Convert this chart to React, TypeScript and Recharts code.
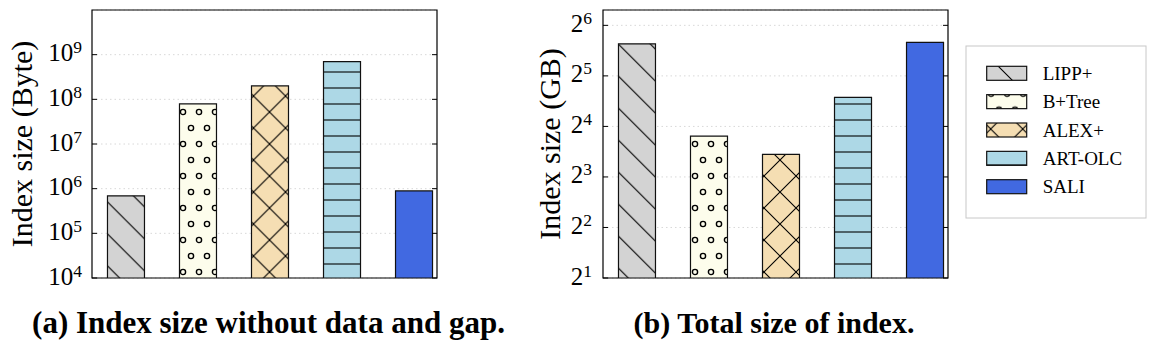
import React from "react";
import {
    BarChart,
    Bar,
    Cell,
    XAxis,
    YAxis,
    CartesianGrid,
    ReferenceArea,
} from "recharts";

const METHODS = ["LIPP+", "B+Tree", "ALEX+", "ART-OLC", "SALI"];
const FILLS = ["#d3d3d3", "#fdfdec", "#f5deb3", "#add8e6", "#4169e1"];

// (a) index size without data and gap, bytes
const INDEX_BYTES = [6.9e5, 7.9e7, 2.0e8, 7.0e8, 8.9e5];
// (b) total size of index, GB
const TOTAL_GB = [49.7, 14.0, 10.9, 23.8, 50.7];

const BYTE_TICKS = [1e4, 1e5, 1e6, 1e7, 1e8, 1e9];
const GB_TICKS = [2, 4, 8, 16, 32, 64];

const X_DOMAIN = [-0.465, 4.326];
const SERIF = "'Liberation Serif', 'Times New Roman', serif";

type Shift = [number, number];

function HatchDefs({ prefix, shifts }: { prefix: string; shifts: Shift[] }) {
    const tf = (i: number) => `translate(${shifts[i][0]},${shifts[i][1]})`;
    return (
        <defs>
            <pattern id={`${prefix}-0`} patternUnits="userSpaceOnUse" width={32} height={32} patternTransform={tf(0)}>
                <rect width={32} height={32} fill={FILLS[0]} />
                <path d="M-4,-4L36,36M-4,28L4,36M28,-4L36,4" stroke="#000" strokeWidth={1.1} />
            </pattern>
            <pattern id={`${prefix}-1`} patternUnits="userSpaceOnUse" width={16} height={32} patternTransform={tf(1)}>
                <rect width={16} height={32} fill={FILLS[1]} />
                <circle cx={4} cy={8} r={2.6} fill="none" stroke="#000" strokeWidth={1.4} />
                <circle cx={12} cy={24} r={2.6} fill="none" stroke="#000" strokeWidth={1.4} />
            </pattern>
            <pattern id={`${prefix}-2`} patternUnits="userSpaceOnUse" width={32} height={32} patternTransform={tf(2)}>
                <rect width={32} height={32} fill={FILLS[2]} />
                <path
                    d="M-4,-4L36,36M-4,36L36,-4M-4,28L4,36M28,-4L36,4M28,36L36,28M-4,4L4,-4"
                    stroke="#000"
                    strokeWidth={1.1}
                />
            </pattern>
            <pattern id={`${prefix}-3`} patternUnits="userSpaceOnUse" width={16} height={16}>
                <rect width={16} height={16} fill={FILLS[3]} />
                <path d="M-2,8L18,8" stroke="#000" strokeWidth={1.1} />
            </pattern>
        </defs>
    );
}

const fillFor = (prefix: string, i: number) => (i < 4 ? `url(#${prefix}-${i})` : FILLS[i]);

function PowTick(props: any) {
    const { x, y, payload, base, gap, plotW } = props;
    const exp = Math.round(Math.log(payload.value) / Math.log(base));
    const ax = x + gap;
    return (
        <g>
            <line x1={ax} x2={ax + 5} y1={y} y2={y} stroke="#000" />
            <line x1={ax + plotW - 5} x2={ax + plotW} y1={y} y2={y} stroke="#000" />
            <text x={x} y={y + 6.5} textAnchor="end" fontFamily={SERIF} fontSize={25} fill="#000">
                <tspan>{base}</tspan>
                <tspan dy={-8} fontSize={17.5}>
                    {exp}
                </tspan>
            </text>
        </g>
    );
}

function YTitle({ tx, ty, title }: any) {
    return (
        <text
            x={tx}
            y={ty}
            transform={`rotate(-90, ${tx}, ${ty})`}
            textAnchor="middle"
            dominantBaseline="central"
            fontFamily={SERIF}
            fontSize={30}
            fill="#000"
        >
            {title}
        </text>
    );
}

type PanelProps = {
    prefix: string;
    shifts: Shift[];
    values: number[];
    ticks: number[];
    domain: number[];
    base: number;
    title: string;
    left: number;
    width: number;
    axisW: number;
    right: number;
    gap: number;
    titleX: number;
};

function Panel(p: PanelProps) {
    const rows = METHODS.map((m, i) => ({ name: m, pos: i, value: p.values[i] }));
    const plotW = p.width - p.axisW - p.right;
    return (
        <div style={{ position: "absolute", left: p.left, top: 0 }}>
            <BarChart
                width={p.width}
                height={300}
                data={rows}
                margin={{ top: 10, right: p.right, bottom: 22, left: 0 }}
            >
                <HatchDefs prefix={p.prefix} shifts={p.shifts} />
                <CartesianGrid vertical={false} stroke="#d8d8d8" strokeDasharray="1.5 3" />
                <XAxis type="number" dataKey="pos" domain={X_DOMAIN} hide allowDataOverflow />
                <YAxis
                    type="number"
                    scale="log"
                    domain={p.domain}
                    ticks={p.ticks}
                    interval={0}
                    allowDataOverflow
                    width={p.axisW}
                    axisLine={false}
                    tickLine={false}
                    tickSize={0}
                    tickMargin={p.gap}
                    tick={(t: any) => <PowTick {...t} base={p.base} gap={p.gap} plotW={plotW} />}
                    label={<YTitle tx={p.titleX} ty={144} title={p.title} />}
                />
                <Bar dataKey="value" barSize={37} stroke="#111" strokeWidth={1.2} isAnimationActive={false}>
                    {rows.map((r, i) => (
                        <Cell key={r.name} fill={fillFor(p.prefix, i)} />
                    ))}
                </Bar>
                <ReferenceArea
                    x1={X_DOMAIN[0]}
                    x2={X_DOMAIN[1]}
                    y1={p.domain[0]}
                    y2={p.domain[1]}
                    fill="none"
                    stroke="#000"
                    strokeWidth={1.2}
                    fillOpacity={0}
                />
            </BarChart>
        </div>
    );
}

function LegendBox() {
    return (
        <svg
            width={182}
            height={174}
            style={{ position: "absolute", left: 965, top: 45 }}
        >
            <HatchDefs prefix="lg" shifts={[[0, 20], [6, 8.7], [9.7, 4]]} />
            <rect x={1} y={1} width={180} height={172} fill="#fff" stroke="#c8c8c8" strokeWidth={1} />
            {METHODS.map((m, i) => {
                const cy = 28.3 + i * 28.35;
                return (
                    <g key={m}>
                        <rect
                            x={21.7}
                            y={cy - 7}
                            width={40}
                            height={14}
                            fill={fillFor("lg", i)}
                            stroke="#111"
                            strokeWidth={1.2}
                        />
                        <text x={77.7} y={cy + 6.5} fontFamily={SERIF} fontSize={19} fill="#000">
                            {m}
                        </text>
                    </g>
                );
            })}
        </svg>
    );
}

export default function App() {
    return (
        <div
            style={{
                position: "absolute",
                left: 0,
                top: 0,
                width: 1155,
                height: 347,
                background: "#fff",
                overflow: "hidden",
            }}
        >
            <Panel
                prefix="pa"
                shifts={[[0, -1.6], [3, 8], [-2.5, 0]]}
                values={INDEX_BYTES}
                ticks={BYTE_TICKS}
                domain={[1e4, 1e10]}
                base={10}
                title="Index size (Byte)"
                left={0}
                width={460}
                axisW={92}
                right={23}
                gap={10}
                titleX={21}
            />
            <Panel
                prefix="pb"
                shifts={[[0, 9.7], [11, 8], [4, 0]]}
                values={TOTAL_GB}
                ticks={GB_TICKS}
                domain={[2, 79]}
                base={2}
                title="Index size (GB)"
                left={520}
                width={440}
                axisW={83}
                right={12}
                gap={11}
                titleX={29}
            />
            <LegendBox />
            <svg width={1155} height={47} style={{ position: "absolute", left: 0, top: 300 }}>
                <text x={268.5} y={33} textAnchor="middle" fontFamily={SERIF} fontWeight="bold" fontSize={31} fill="#000">
                    (a) Index size without data and gap.
                </text>
                <text x={774} y={33} textAnchor="middle" fontFamily={SERIF} fontWeight="bold" fontSize={30} fill="#000">
                    (b) Total size of index.
                </text>
            </svg>
        </div>
    );
}
